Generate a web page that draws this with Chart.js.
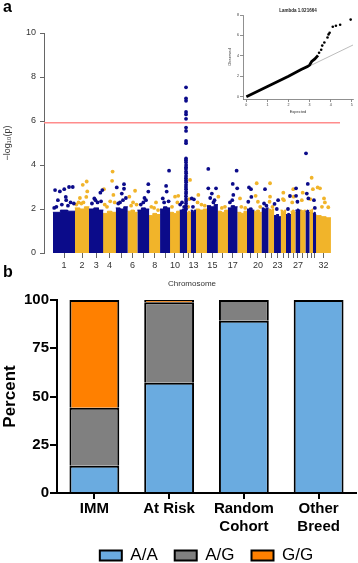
<!DOCTYPE html>
<html><head><meta charset="utf-8">
<script src="https://cdn.jsdelivr.net/npm/chart.js@4.4.0/dist/chart.umd.min.js"></script>
<style>
html,body{margin:0;padding:0;background:#fff;}
#wrap{position:relative;width:358px;height:563px;overflow:hidden;font-family:"Liberation Sans",Arial,sans-serif;}
.panel{position:absolute;font-weight:bold;font-size:16px;line-height:16px;color:#000;}
canvas{position:absolute;}
</style></head><body>
<div id="wrap">
<canvas id="man" width="358" height="290" style="left:0;top:0"></canvas>
<canvas id="qq" width="138" height="116" style="left:220px;top:4px"></canvas>
<canvas id="bar" width="358" height="293" style="left:0;top:288px"></canvas>
<div class="panel" style="left:3px;top:-1px">a</div>
<div class="panel" style="left:3px;top:264px">b</div>
</div>
<script>
// ---------- Panel a: Manhattan plot ----------
const chrSizes = [185,120,119,108,99,84,98,94,83,83,61,33,42,94,91,87,80,82,59,64,57,49,55,46,39,41,39,46,33,30,25,125];
const chrNames = ['1','2','3','4','5','6','7','8','9','10','11','12','13','14','15','16','17','18','19','20','21','22','23','24','25','26','27','28','29','30','31','32'];
const shownChrLabels = ['1','2','3','4','6','8','10','13','15','17','20','23','27','32'];
const denseTop = [[1.85,1.95,1.9],[2.05,2.0,2.1],[2.0,2.05,1.95],[1.8,1.9,1.85],[2.05,2.0,2.1],[1.9,1.95,1.85],[1.95,2.05,2.0],[1.7,1.8,1.75],
 [2.0,2.1,2.05],[1.85,1.8,1.9],[1.95,2.0,2.05],[1.85,1.9,1.85],[1.95,1.9,1.95],[2.0,1.95,2.0],[2.15,2.1,2.2],[1.9,1.85,1.95],
 [2.05,2.15,2.1],[1.85,1.8,1.9],[2.0,2.05,1.95],[1.9,1.95,1.85],[2.05,2.0,2.05],[2.0,1.95,2.0],[1.7,1.75,1.65],[1.95,1.9,1.95],
 [1.75,1.8,1.75],[1.9,1.95,1.85],[1.95,2.0,1.95],[1.95,1.9,1.95],[1.9,1.95,1.85],[1.95,1.9,2.0],[1.8,1.85,1.75],[1.7,1.65,1.6]];
// [chromosome, relative position within chromosome, -log10(p)]
const topHits = [
 [1,0.09,2.86],[1,0.31,2.8],[1,0.51,2.9],[1,0.73,3.0],[1,0.9,3.0],[1,0.22,2.4],[1,0.6,2.4],[1,0.58,2.55],[1,0.4,2.2],[1,0.8,2.3],[1,0.15,2.1],[1,0.68,2.15],[1,0.95,2.25],[1,0.05,2.05],
 [2,0.55,3.1],[2,0.83,3.25],[2,0.87,2.8],[2,0.8,2.55],[2,0.35,2.5],[2,0.1,2.2],[2,0.6,2.3],[2,0.45,2.25],[2,0.25,2.3],
 [3,0.37,2.48],[3,0.45,2.4],[3,0.8,2.74],[3,0.94,2.86],[3,0.6,2.3],[3,0.2,2.25],[3,0.85,2.35],
 [4,0.74,3.7],[4,0.7,3.28],[4,0.06,2.9],[4,0.8,2.64],[4,0.9,2.3],[4,0.55,2.35],[4,0.3,2.1],[4,0.12,2.2],
 [5,0.07,2.98],[5,0.69,3.13],[5,0.69,2.92],[5,0.5,2.7],[5,0.85,2.5],[5,0.35,2.3],[5,0.2,2.25],[5,0.6,2.4],
 [6,0.75,2.83],[6,0.17,2.56],[6,0.9,2.2],[6,0.55,2.3],[6,0.35,2.15],
 [7,0.93,3.13],[7,0.93,2.79],[7,0.73,2.4],[7,0.5,2.3],[7,0.28,2.2],[7,0.6,2.5],
 [8,0.62,2.3],[8,0.45,2.05],[8,0.2,2.1],[8,0.8,1.95],
 [9,0.9,3.74],[9,0.6,3.05],[9,0.66,2.79],[9,0.26,2.48],[9,0.85,2.35],[9,0.4,2.3],
 [10,0.84,2.6],[10,0.75,2.3],[10,0.51,2.56],[10,0.2,2.1],
 [11,0.86,7.53],[11,0.86,7.03],[11,0.86,6.92],[11,0.86,6.41],[11,0.86,6.3],[11,0.86,6.1],[11,0.86,5.7],[11,0.86,5.55],[11,0.86,5.09],[11,0.86,4.99],
 [11,0.86,4.3],[11,0.85,4.22],[11,0.86,4.12],[11,0.87,4.0],[11,0.86,3.9],[11,0.85,3.82],[11,0.86,3.7],[11,0.87,3.62],[11,0.86,3.5],[11,0.85,3.4],
 [11,0.86,3.3],[11,0.87,3.22],[11,0.86,3.1],[11,0.85,3.0],[11,0.86,2.9],[11,0.87,2.78],[11,0.86,2.7],[11,0.85,2.58],[11,0.86,2.45],[11,0.87,2.36],
 [11,0.86,2.25],[11,0.85,2.12],[11,0.86,2.0],[11,0.05,2.2],[11,0.3,2.3],[11,0.6,2.1],
 [12,0.77,3.32],[12,0.6,2.45],[12,0.3,2.1],
 [13,0.16,2.48],[13,0.6,2.44],[13,0.4,2.1],
 [14,0.22,2.64],[14,0.15,2.3],[14,0.5,2.2],[14,0.8,2.15],
 [15,0.12,3.82],[15,0.12,2.94],[15,0.84,2.94],[15,0.45,2.7],[15,0.3,2.5],[15,0.7,2.4],[15,0.6,2.3],
 [16,0.06,2.56],[16,0.4,2.05],[16,0.7,2.1],
 [17,0.5,3.14],[17,0.91,3.74],[17,0.97,2.94],[17,0.56,2.64],[17,0.45,2.4],[17,0.2,2.3],
 [18,0.26,2.48],[18,0.4,2.1],[18,0.8,2.05],
 [19,0.26,2.98],[19,0.55,2.9],[19,0.16,2.33],[19,0.6,2.55],
 [20,0.34,3.17],[20,0.2,2.6],[20,0.5,2.33],[20,0.8,2.1],
 [21,0.49,2.9],[21,0.35,2.25],[21,0.7,2.15],
 [22,0.28,3.17],[22,0.28,2.56],[22,0.2,2.33],[22,0.7,2.1],
 [23,0.05,2.23],[23,0.6,2.4],[23,0.4,2.0],
 [24,0.48,2.74],[24,0.4,2.45],[24,0.6,2.4],
 [25,0.83,2.59],[25,0.4,2.0],
 [26,0.52,2.9],[26,0.6,2.56],[26,0.3,2.3],
 [27,0.1,2.94],[27,0.1,2.6],[27,0.4,2.33],
 [28,0.46,2.74],[28,0.3,2.4],
 [29,0.1,4.53],[29,0.55,3.14],[29,0.3,2.7],[29,0.7,2.48],
 [30,0.6,3.42],[30,0.95,2.9],[30,0.2,2.45],
 [31,0.3,2.4],[31,0.6,2.05],
 [32,0.11,2.98],[32,0.27,2.94],[32,0.54,2.48],[32,0.83,2.08],[32,0.6,2.3],[32,0.4,2.1]
];
const threshold = 5.92;
const yTicksA = [0,2,4,6,8,10];

// ---------- QQ inset ----------
const qqTitle = 'Lambda 1.021664';
const qqBodyExp = [0,1,2,2.6,2.9,3.0,3.1,3.25,3.4];
const qqBodyObs = [0,1,2,2.65,2.95,3.1,3.45,3.7,4.05];
const qqTailExp = [3.45,3.55,3.6,3.7,3.85,3.9,3.95,4.1,4.25,4.45,4.95];
const qqTailObs = [4.3,4.6,5.0,5.3,5.8,6.1,6.25,6.85,6.95,7.05,7.55];
const qqXTicks = [0,1,2,3,4,5];
const qqYTicks = [0,2,4,6,8];

// ---------- Panel b: genotype bars ----------
const groups = ['IMM','At Risk',['Random','Cohort'],['Other','Breed']];
const genoAA = [14.1,57.1,89.3,100];
const genoAG = [30.1,41.7,10.7,0];
const genoGG = [55.8,1.2,0,0];
const yTicksB = [0,25,50,75,100];

const FAM = '"Liberation Sans","DejaVu Sans",Arial,sans-serif';
const BLUE = '#0b0b8a', GOLD = '#f1b42a';

// chromosome starts
const chrStart = [];
chrSizes.reduce((acc,s,i)=>{chrStart[i]=acc;return acc+s;},0);
const chrCenters = chrSizes.map((s,i)=>chrStart[i]+s/2);

const denseSets = chrSizes.map((w,i)=>{
  const s = chrStart[i], h = denseTop[i], col = (i%2===0)?BLUE:GOLD;
  const a = s-1.5, b = s+w+1.5;
  return {type:'line', data:[{x:a,y:h[0]},{x:s+w/3,y:h[0]},{x:s+w/3,y:h[1]},{x:s+2*w/3,y:h[1]},{x:s+2*w/3,y:h[2]},{x:b,y:h[2]}],
    fill:'origin', backgroundColor:col, borderColor:col, borderWidth:1, pointRadius:0, tension:0, order:3+(i%2)};
});
const hitPts = odd => topHits.filter(h=>(h[0]%2===1)===odd).map(h=>({x:chrStart[h[0]-1]+h[1]*chrSizes[h[0]-1], y:h[2]}));

new Chart(document.getElementById('man'), {
  type:'line',
  data:{datasets:[
    {type:'line', data:[{x:-77,y:threshold},{x:2429,y:threshold}], borderColor:'#ff8c8c', borderWidth:1.6, pointRadius:0, order:0},
    {type:'line', data:hitPts(true), showLine:false, pointRadius:1.9, pointBackgroundColor:BLUE, pointBorderWidth:0, order:1},
    {type:'line', data:hitPts(false), showLine:false, pointRadius:1.9, pointBackgroundColor:GOLD, pointBorderWidth:0, order:2},
    ...denseSets
  ]},
  options:{
    responsive:false, animation:false, events:[],
    layout:{padding:{top:33,right:18,left:0,bottom:0}},
    plugins:{legend:{display:false}, tooltip:{enabled:false}},
    scales:{
      x:{type:'linear', min:-77, max:2429,
        afterBuildTicks(s){ s.ticks = chrCenters.map(v=>({value:v})); },
        afterFit(s){ s.height = 37; },
        border:{display:false},
        grid:{drawOnChartArea:false, drawTicks:true, tickLength:5, color:'#666', lineWidth:1},
        ticks:{autoSkip:false, maxRotation:0, minRotation:0, padding:2, color:'#333', font:{family:FAM,size:9},
          callback:(v,i)=> shownChrLabels.includes(chrNames[i]) ? chrNames[i] : ''},
        title:{display:true, text:'Chromosome', color:'#333', font:{family:FAM,size:8}, padding:{top:0,bottom:1}}
      },
      y:{min:0, max:10,
        afterBuildTicks(s){ s.ticks = yTicksA.map(v=>({value:v})); },
        afterFit(s){ s.width = 44; },
        border:{display:true, color:'#666', width:1},
        grid:{drawOnChartArea:false, drawTicks:true, tickLength:4, color:'#666'},
        ticks:{padding:4, color:'#333', font:{family:FAM,size:9}},
        title:{display:true, text:'\u2212log\u2081\u2080(p)', color:'#333', font:{family:FAM,size:9}, padding:{top:2,bottom:0}}
      }
    }
  }
});

// QQ inset
new Chart(document.getElementById('qq'), {
  type:'line',
  data:{datasets:[
    {data:[{x:0,y:0},{x:5.1,y:5.1}], borderColor:'#b4b4b4', borderWidth:0.9, pointRadius:0, order:2},
    {data:qqBodyExp.map((e,i)=>({x:e,y:qqBodyObs[i]})), borderColor:'#000', borderWidth:2.8, pointRadius:0, tension:0, order:1},
    {data:qqTailExp.map((e,i)=>({x:e,y:qqTailObs[i]})), showLine:false, pointRadius:1.3, pointBackgroundColor:'#000', pointBorderWidth:0, order:0}
  ]},
  options:{
    responsive:false, animation:false, events:[],
    layout:{padding:{top:0,right:5,left:0,bottom:0}},
    plugins:{legend:{display:false}, tooltip:{enabled:false},
      title:{display:true, fullSize:false, text:qqTitle, color:'#222', font:{family:FAM,size:4.5,weight:'bold'}, padding:{top:4,bottom:1.6}}},
    scales:{
      x:{type:'linear', min:-0.16, max:5.06,
        afterBuildTicks(s){ s.ticks = qqXTicks.map(v=>({value:v})); },
        afterFit(s){ s.height = 21; },
        border:{display:true, color:'#444', width:0.6},
        grid:{drawOnChartArea:false, tickLength:3, color:'#444', lineWidth:0.6},
        ticks:{padding:1, color:'#333', font:{family:FAM,size:3.6}, maxRotation:0},
        title:{display:true, text:'Expected', color:'#333', font:{family:FAM,size:4}, padding:{top:0,bottom:5.5}}
      },
      y:{type:'linear', min:-0.23, max:8.0,
        afterBuildTicks(s){ s.ticks = qqYTicks.map(v=>({value:v})); },
        afterFit(s){ s.width = 23; },
        border:{display:true, color:'#444', width:0.6},
        grid:{drawOnChartArea:false, tickLength:3, color:'#444', lineWidth:0.6},
        ticks:{padding:1, color:'#333', font:{family:FAM,size:3.6}},
        title:{display:true, text:'Observed', color:'#333', font:{family:FAM,size:4}, padding:{top:7.5,bottom:0}}
      }
    }
  }
});

// Panel b
const segBorder = {top:2,left:2,right:2,bottom:0};
const legendLift = {id:'legendLift', afterLayout(c){ if(c.legend){ c.legend.top -= 7; c.legend.bottom -= 7; } }};
new Chart(document.getElementById('bar'), {
  type:'bar',
  data:{labels:groups, datasets:[
    {label:'A/A', data:genoAA, backgroundColor:'#6aabe0', borderColor:'#000', borderWidth:segBorder, borderSkipped:false},
    {label:'A/G', data:genoAG, backgroundColor:'#808080', borderColor:'#000', borderWidth:segBorder, borderSkipped:false},
    {label:'G/G', data:genoGG, backgroundColor:'#ff8000', borderColor:'#000', borderWidth:segBorder, borderSkipped:false}
  ]},
  plugins:[legendLift],
  options:{
    responsive:false, animation:false, events:[],
    barPercentage:0.667, categoryPercentage:1,
    layout:{padding:{top:12,right:2,left:0,bottom:0}},
    plugins:{tooltip:{enabled:false},
      legend:{position:'bottom', fullSize:false,
        labels:{boxWidth:22, boxHeight:10, padding:17, color:'#000', font:{family:FAM,size:17},
          generateLabels(chart){ const it = Chart.defaults.plugins.legend.labels.generateLabels(chart); it.forEach(x=>{x.lineWidth=2; x.strokeStyle='#000';}); return it; }}}
    },
    scales:{
      x:{stacked:true,
        afterFit(s){ s.height = 44; },
        border:{display:true, color:'#000', width:2},
        grid:{drawOnChartArea:false, offset:false, tickLength:6, color:'#000', lineWidth:2},
        ticks:{padding:1, color:'#000', font:{family:FAM,size:15,weight:'bold'}, maxRotation:0}
      },
      y:{stacked:true, min:0, max:100,
        afterBuildTicks(s){ s.ticks = yTicksB.map(v=>({value:v})); },
        afterFit(s){ s.width = 57; },
        border:{display:true, color:'#000', width:2},
        grid:{drawOnChartArea:false, tickLength:7, color:'#000', lineWidth:2},
        ticks:{padding:1, color:'#000', font:{family:FAM,size:15,weight:'bold'}},
        title:{display:true, text:'Percent', color:'#000', font:{family:FAM,size:17,weight:'bold'}, padding:{top:0,bottom:0}}
      }
    }
  }
});
</script>
</body></html>
